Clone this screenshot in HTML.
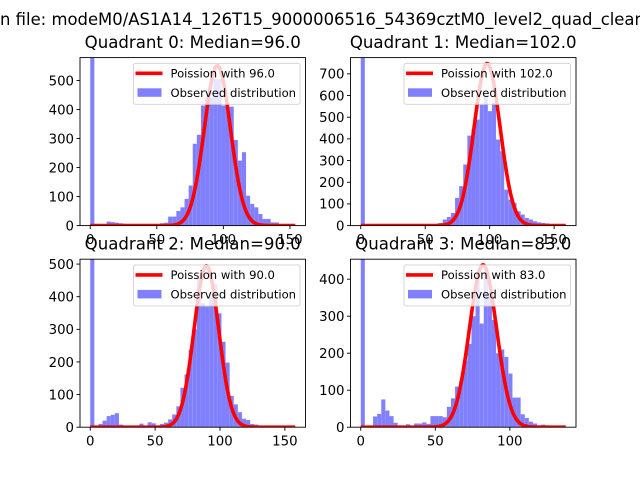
<!DOCTYPE html>
<html><head><meta charset="utf-8"><style>
html,body{margin:0;padding:0;background:#fff;}
svg{display:block;font-family:"DejaVu Sans","Liberation Sans",sans-serif;}
</style></head><body>
<svg id="fig" width="640" height="480" viewBox="0 0 640 480">
<rect width="640" height="480" fill="#fff"/>
<text x="0" y="25" font-size="16.45" text-anchor="end">Histograms i</text>
<text x="0" y="25" font-size="16.45">n file: modeM0/AS1A14_126T15_9000006516_54369cztM0_level2_quad_clean.evt</text>
</svg>
<script>
const titles = ["Quadrant 0: Median=96.0","Quadrant 1: Median=102.0","Quadrant 2: Median=90.0","Quadrant 3: Median=83.0"];
const medians = [96.0, 102.0, 90.0, 83.0];
const curveCenters = [95.5, 98, 89.5, 82];
const curvePeaks = [552, 748, 495, 439];
const dataMax = [154, 159, 158, 137.5];
const yMaxes = [579, 775, 515, 454];
const yTicks0 = [0,100,200,300,400,500];
const yTicks1 = [0,100,200,300,400,500,600,700];
const yTicks2 = [0,100,200,300,400,500];
const yTicks3 = [0,100,200,300,400];
const xTicks0 = [0,50,100,150];
const xTicks1 = [0,50,100,150];
const xTicks2 = [0,50,100,150];
const xTicks3 = [0,50,100];
const counts0 = [900,0,0,0,14,12,10,8,6,5,3,3,4,4,3,4,5,8,10,31,31,50,63,92,138,282,313,414,442,442,505,505,414,410,410,295,224,253,103,75,63,40,23,23,11,11,3,3,3,2];
const counts1 = [900,0,0,0,0,0,0,0,0,0,0,0,0,0,0,0,0,5,8,12,28,40,58,128,182,282,415,443,489,558,605,528,566,397,343,166,120,105,66,51,35,28,20,15,12,10,5,4,3,2];
const counts2 = [900,0,10,20,34,38,43,8,3,3,5,5,11,5,15,12,5,10,14,24,39,64,121,162,238,300,457,380,370,400,438,349,262,198,96,70,46,26,22,10,8,5,4,3,2,2,1,1,1,1];
const counts3 = [900,0,0,29,36,75,45,30,12,5,3,8,3,10,10,13,9,30,30,30,27,55,78,110,125,180,225,300,400,280,420,360,290,200,210,190,145,80,80,35,25,15,10,5,7,5,3,2,2,1];
const allCounts = [counts0,counts1,counts2,counts3];
const allYTicks = [yTicks0,yTicks1,yTicks2,yTicks3];
const allXTicks = [xTicks0,xTicks1,xTicks2,xTicks3];

const NS = "http://www.w3.org/2000/svg";
const svg = document.getElementById("fig");
function mk(tag, attrs, parent){const e=document.createElementNS(NS,tag);for(const k in attrs)e.setAttribute(k,attrs[k]);(parent||svg).appendChild(e);return e;}
const boxes = [[80,57.6],[350.5,57.6],[80,259.2],[350.5,259.2]];
const W = 225.5, H = 168;
for (let q=0;q<4;q++){
  const [L,T] = boxes[q];
  const mx = dataMax[q], m = mx*0.05;
  const x0 = -m, x1 = mx+m, ym = yMaxes[q];
  const sx = v => L + (v-x0)/(x1-x0)*W;
  const sy = v => T + H - v/ym*H;
  const g = mk("g",{});
  
  
  const clipId = "clip"+q;
  const cp = mk("clipPath",{id:clipId},g);
  mk("rect",{x:L,y:T,width:W,height:H},cp);
  const bars = mk("g",{"clip-path":"url(#"+clipId+")"},g);
  const cnt = allCounts[q], n = cnt.length, bw = mx/n;
  for (let i=0;i<n;i++){
    if (cnt[i]<=0) continue;
    const top = Math.max(sy(cnt[i]), T-2);
    const r = mk("rect",{x:sx(i*bw),y:top,width:sx((i+1)*bw)-sx(i*bw),height:sy(0)-top,fill:"#8080ff"},bars);
    
    
  }
  const lam = medians[q], c = curveCenters[q], pk = curvePeaks[q];
  let d = "";
  for (let k=0;k<=200;k++){
    const x = mx*k/200;
    const v = pk*Math.exp(-(x-c)*(x-c)/(2*lam));
    d += (k?"L":"M")+sx(x).toFixed(2)+","+sy(v).toFixed(2);
  }
  const pl = mk("path",{d:d,fill:"none",stroke:"#ff0000","stroke-width":3.6,"stroke-linejoin":"round"},bars);
  
  
  const fr = mk("rect",{x:L,y:T,width:W,height:H,fill:"none",stroke:"#000","stroke-width":0.9},g);
  
  
  for (const t of allYTicks[q]){
    const y = sy(t);
    mk("line",{x1:L-3.5,x2:L,y1:y,y2:y,stroke:"#000","stroke-width":0.9},g);
    const tx = mk("text",{x:L-6,y:y+4.8,"font-size":13.3,"text-anchor":"end"},g);
    tx.textContent = t;
    
    
  }
  for (const t of allXTicks[q]){
    const x = sx(t);
    mk("line",{x1:x,x2:x,y1:T+H,y2:T+H+3.5,stroke:"#000","stroke-width":0.9},g);
    const tx = mk("text",{x:x,y:T+H+18.5,"font-size":13.3,"text-anchor":"middle"},g);
    tx.textContent = t;
    
    
  }
  const tt = mk("text",{x:L+W/2,y:T-9.5,"font-size":16.6,"text-anchor":"middle"},g);
  tt.textContent = titles[q];
  
  
  const lg = mk("g",{},g);
  
  
  const lx = L+W-172, ly = T+5.7;
  mk("rect",{x:lx,y:ly,width:166.5,height:41,rx:2,fill:"#fff","fill-opacity":0.8,stroke:"#d0d0d0","stroke-width":0.9},lg);
  mk("line",{x1:lx+2,x2:lx+29,y1:ly+10,y2:ly+10,stroke:"#ff0000","stroke-width":3.6},lg);
  const t1 = mk("text",{x:lx+37,y:ly+14.2,"font-size":11.6},lg);
  t1.textContent = "Poission with "+lam.toFixed(1);
  
  
  mk("rect",{x:lx+4,y:ly+25,width:24,height:8.5,fill:"#8080ff"},lg);
  const t2 = mk("text",{x:lx+37,y:ly+33.5,"font-size":11.6},lg);
  t2.textContent = "Observed distribution";
  
  
}
</script>
</body></html>
